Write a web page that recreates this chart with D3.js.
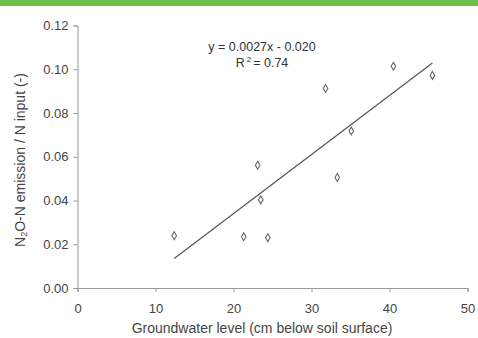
<!DOCTYPE html>
<html><head><meta charset="utf-8">
<script src="https://cdn.jsdelivr.net/npm/d3@7"></script>
<style>
html,body{margin:0;padding:0;background:#fff;}
svg{display:block;font-family:"Liberation Sans",Arial,sans-serif;}
</style></head>
<body><svg id="c" width="478" height="338"></svg>
<script>
const groundwater = [12.4, 21.3, 23.1, 23.5, 24.4, 31.8, 33.3, 35.1, 40.5, 45.5];
const emissionRatio = [0.0239, 0.0234, 0.0561, 0.0403, 0.0230, 0.0912, 0.0505, 0.0718, 0.1014, 0.0972];
const xTicks = [0, 10, 20, 30, 40, 50];
const yTicks = [0, 0.02, 0.04, 0.06, 0.08, 0.10, 0.12];
const slope = 0.0027, intercept = -0.020;
const eqText = "y = 0.0027x - 0.020";

const svg = d3.select("#c");
const textCol = "#444";
svg.append("rect").attr("x",0).attr("y",0).attr("width",478).attr("height",6).attr("fill","#6fbf4e");

const x = d3.scaleLinear().domain([0,50]).range([77.5,467.5]);
const y = d3.scaleLinear().domain([0,0.12]).range([288,25.5]);

const gx = svg.append("g").attr("transform","translate(0,288)")
  .call(d3.axisBottom(x).tickValues(xTicks).tickSize(4).tickFormat(d3.format("d")));
const gy = svg.append("g").attr("transform","translate(77.5,0)")
  .call(d3.axisLeft(y).tickValues(yTicks).tickSize(4).tickFormat(d3.format(".2f")));
[gx,gy].forEach(g=>{
  g.select(".domain").attr("stroke","#999").attr("stroke-width",1);
  g.selectAll(".tick line").attr("stroke","#999");
  g.selectAll(".tick text").attr("fill",textCol).attr("font-size",13).attr("font-family","Liberation Sans, Arial, sans-serif");
});
gx.selectAll(".tick text").attr("dy",null).attr("y",25);
gy.selectAll(".tick text").attr("x",-9);

const data = groundwater.map((g,i)=>({g, e: emissionRatio[i]}));
const xmin = d3.min(groundwater), xmax = d3.max(groundwater);
svg.append("line")
  .attr("x1",x(xmin)).attr("y1",y(slope*xmin+intercept))
  .attr("x2",x(xmax)).attr("y2",y(slope*xmax+intercept))
  .attr("stroke","#555").attr("stroke-width",1.2);

svg.selectAll("path.pt").data(data).enter().append("path")
  .attr("class","pt")
  .attr("d", d3.symbol().type(d3.symbolDiamond).size(18)())
  .attr("transform", d=>`translate(${x(d.g)},${y(d.e)})`)
  .attr("fill","#fff").attr("stroke","#666").attr("stroke-width",1.1);

svg.append("text").attr("x",262).attr("y",51).attr("text-anchor","middle")
  .attr("font-size",12.5).attr("fill","#333").text(eqText);
const r = svg.append("text").attr("x",262).attr("y",67).attr("text-anchor","middle")
  .attr("font-size",12.5).attr("fill","#333");
r.append("tspan").text("R");
r.append("tspan").attr("font-size",8).attr("dy",-5).attr("dx",2).text("2");
r.append("tspan").attr("dy",5).attr("dx",2).text("= 0.74");

svg.append("text").attr("x",262).attr("y",333).attr("text-anchor","middle")
  .attr("font-size",14).attr("fill",textCol).text("Groundwater level (cm below soil surface)");

const yl = svg.append("text").attr("transform","translate(25,160) rotate(-90)")
  .attr("text-anchor","middle").attr("font-size",14).attr("fill",textCol);
yl.append("tspan").text("N");
yl.append("tspan").attr("font-size",9).attr("dy",2).text("2");
yl.append("tspan").attr("dy",-2).text("O-N emission / N input (-)");
</script></body></html>
